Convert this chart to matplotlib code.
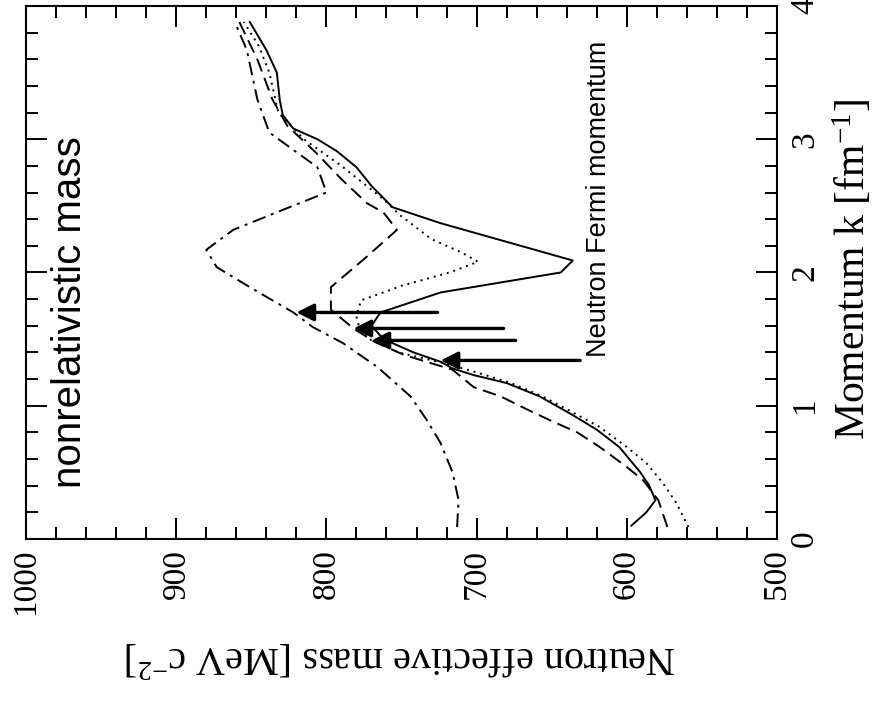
import matplotlib
matplotlib.use('Agg')
import matplotlib.pyplot as plt
from matplotlib.ticker import MultipleLocator

# momentum k [fm^-1] and effective mass [MeV c^-2] for each curve
k_solid = [0.10, 0.20, 0.29, 0.40, 0.50, 0.69, 0.82, 0.93, 1.07, 1.17, 1.23, 1.28, 1.33,
           1.40, 1.50, 1.60, 1.70, 1.85, 2.00, 2.09, 2.37, 2.49, 2.65, 2.79, 2.91, 3.00,
           3.08, 3.18, 3.29, 3.50, 3.67, 3.88]
m_solid = [597, 587, 581, 585, 591, 605, 620, 636, 658, 680, 702, 716, 724,
           742, 762, 770, 764, 724, 644, 636, 724, 756, 770, 780, 793, 806,
           822, 829, 831, 833, 840, 851]

k_dot = [0.09, 0.27, 0.42, 0.57, 0.69, 0.84, 0.95, 1.07, 1.17, 1.25, 1.32, 1.40, 1.49,
         1.58, 1.67, 1.79, 1.90, 2.00, 2.08, 2.15, 2.25, 2.43, 2.55, 2.80, 3.00, 3.20,
         3.50, 3.70, 3.88]
m_dot = [559, 567, 576, 587, 600, 618, 636, 656, 677, 700, 722, 752, 770,
         778, 780, 777, 750, 718, 699, 710, 730, 751, 762, 790, 815, 832,
         838, 845, 855]

k_dash = [0.09, 0.19, 0.29, 0.44, 0.54, 0.69, 0.80, 0.89, 0.97, 1.07, 1.14, 1.27, 1.38,
          1.48, 1.58, 1.72, 1.89, 2.10, 2.32, 2.45, 2.52, 2.70, 2.90, 3.10, 3.30, 3.60, 3.88]
m_dash = [573, 576, 579, 589, 600, 618, 633, 651, 666, 684, 702, 716, 748,
          768, 782, 797, 797, 775, 753, 762, 773, 790, 807, 826, 836, 846, 858]

k_dashdot = [0.09, 0.29, 0.50, 0.72, 0.89, 1.07, 1.29, 1.47, 1.59, 1.70, 1.89, 2.04, 2.17,
             2.32, 2.42, 2.47, 2.60, 2.79, 3.05, 3.30, 3.67, 3.88]
m_dashdot = [713, 712, 716, 724, 733, 744, 766, 789, 809, 822, 851, 873, 880,
             862, 840, 829, 800, 806, 838, 846, 853, 861]

# neutron Fermi momentum arrows
arrow_k = [1.70, 1.58, 1.49, 1.34]
arrow_tip = [820, 782, 770, 724]
arrow_tail = [726, 682, 674, 631]

serif = 'Liberation Serif'
sans = 'Liberation Sans'
plt.rcParams['mathtext.fontset'] = 'custom'
plt.rcParams['mathtext.rm'] = serif
plt.rcParams['mathtext.it'] = serif + ':italic'

fig = plt.figure(figsize=(8.78, 7.04), dpi=100)
ax = fig.add_axes([0.0296, 0.2344, 0.8554, 0.7571])

ax.plot(m_solid, k_solid, color='k', lw=1.4, ls='-')
ax.plot(m_dot, k_dot, color='k', lw=1.4, ls=(0, (1, 2.5)))
ax.plot(m_dash, k_dash, color='k', lw=1.4, ls=(0, (7, 3.5)))
ax.plot(m_dashdot, k_dashdot, color='k', lw=1.4, ls=(0, (7, 3, 1.5, 3)))

for kk, tip, tail in zip(arrow_k, arrow_tip, arrow_tail):
    ax.annotate('', xy=(tip, kk), xytext=(tail, kk),
                arrowprops=dict(arrowstyle='-|>', lw=2.4, color='k',
                                mutation_scale=26, shrinkA=0, shrinkB=0))

ax.set_xlim(1000, 500)
ax.set_ylim(0, 4)
ax.xaxis.set_major_locator(MultipleLocator(100))
ax.xaxis.set_minor_locator(MultipleLocator(20))
ax.yaxis.set_major_locator(MultipleLocator(1))
ax.yaxis.set_minor_locator(MultipleLocator(0.2))
ax.yaxis.tick_right()

ax.tick_params(which='both', direction='in', top=True, bottom=True,
               left=True, right=True, width=1.4)
ax.tick_params(which='major', length=15)
ax.tick_params(which='minor', length=8.5)
ax.tick_params(axis='x', which='major', pad=7)
ax.tick_params(axis='y', which='major', pad=9)
for s in ax.spines.values():
    s.set_linewidth(1.5)

for lab in ax.get_xticklabels():
    lab.set_rotation(90)
    lab.set_fontfamily(serif)
    lab.set_fontsize(24)
for lab in ax.get_yticklabels():
    lab.set_rotation(90)
    lab.set_fontfamily(serif)
    lab.set_fontsize(24)
    lab.set_verticalalignment('center')

ax.set_xlabel(r'Neutron effective mass [MeV c$^{\mathregular{-2}}$]', fontsize=29,
              family=serif, rotation=180, va='center', ha='center')
ax.xaxis.set_label_coords(0.498, -0.221)
ax.yaxis.set_label_position('right')
ax.set_ylabel(r'Momentum k [fm$^{\mathregular{-1}}$]', fontsize=30, family=serif,
              rotation=90, va='center', ha='center')
ax.yaxis.set_label_coords(1.100, 0.505)

ax.text(970.7, 1.70, 'nonrelativistic mass', rotation=90, fontsize=29,
        family=sans, ha='center', va='center')
ax.text(618.5, 2.556, 'Neutron Fermi momentum', rotation=90, fontsize=19.5,
        family=sans, ha='center', va='center')

fig.savefig('out.png', dpi=100)
